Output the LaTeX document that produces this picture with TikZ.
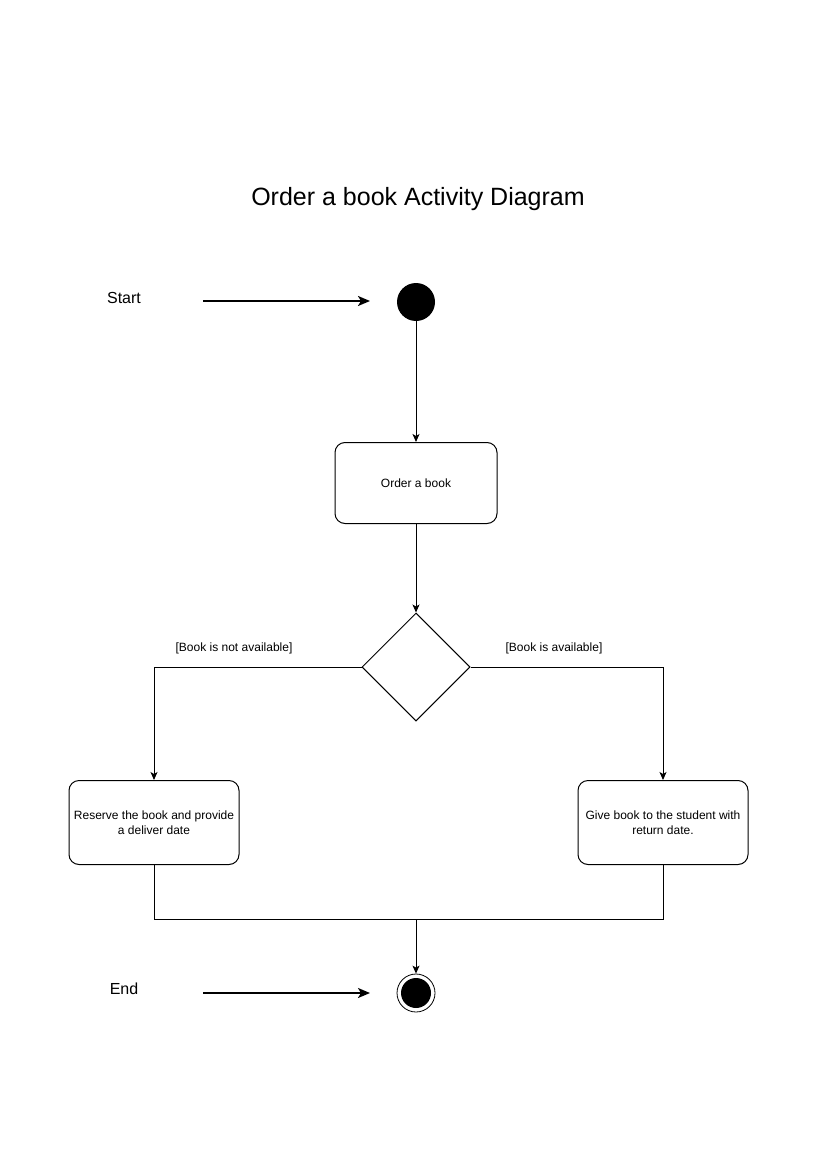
\documentclass[tikz,border=0pt]{standalone}
\usepackage{fontspec}
\setmainfont{Liberation Sans}
\usetikzlibrary{arrows.meta,shapes.geometric}
\tikzset{
  every node/.style={font=\fontsize{12}{15}\selectfont},
  act/.style={draw, rounded corners=10pt, line width=1pt, align=center, inner sep=0pt},
  dec/.style={draw, diamond, line width=1pt, minimum width=108pt, minimum height=108pt, inner sep=0pt},
  flow/.style={line width=1pt, -{Stealth[length=8pt,width=7pt,inset=2pt]}},
  plain/.style={line width=1pt},
  bigarr/.style={line width=2pt, -{Stealth[length=12pt,width=10pt,inset=3pt]}},
  lbl/.style={font=\fontsize{16}{19}\selectfont},
}
\begin{document}
\begin{tikzpicture}[x=1pt,y=-1pt]
\useasboundingbox (0,0) rectangle (827,1169);
\node[font=\fontsize{25}{29}\selectfont] (title) at (418,199.5) {Order a book Activity Diagram};
% start
\node[lbl] (startlbl) at (124,298) {Start};
\node[circle, fill=black, minimum size=38pt, inner sep=0pt] (start) at (416,302) {};
\coordinate (sa) at (203,301);
\coordinate (sb) at (370,301);
\draw[bigarr] (sa) -- (sb);
% order
\node[act, minimum width=162pt, minimum height=81pt] (order) at (416,483) {Order a book};
\draw[flow] (start) -- (order);
% decision
\node[dec] (dec) at (416,667) {};
\draw[flow] (order) -- (dec.north);
% branches
\node[act, minimum width=170pt, minimum height=84pt] (res) at (154,822.5) {Reserve the book and provide\\a deliver date};
\node[act, minimum width=170pt, minimum height=84pt] (give) at (663,822.5) {Give book to the student with\\return date.};
\draw[flow] (dec.west) -| (res.north);
\draw[flow] (dec.east) -| (give.north);
\node (nlbl) at (234,648) {[Book is not available]};
\node (albl) at (554,648) {[Book is available]};
% merge
\coordinate (m) at (416,919);
\draw[plain] (res.south) -- (res.south |- m) -- (give.south |- m) -- (give.south);
\node[circle, draw, line width=0.8pt, minimum size=38pt, inner sep=0pt] (end) at (416,993) {};
\fill (end.center) circle (15);
\draw[flow] (m) -- (end);
% end label
\node[lbl] (endlbl) at (124,989) {End};
\coordinate (ea) at (203,993);
\coordinate (eb) at (370,993);
\draw[bigarr] (ea) -- (eb);
\end{tikzpicture}
\end{document}
